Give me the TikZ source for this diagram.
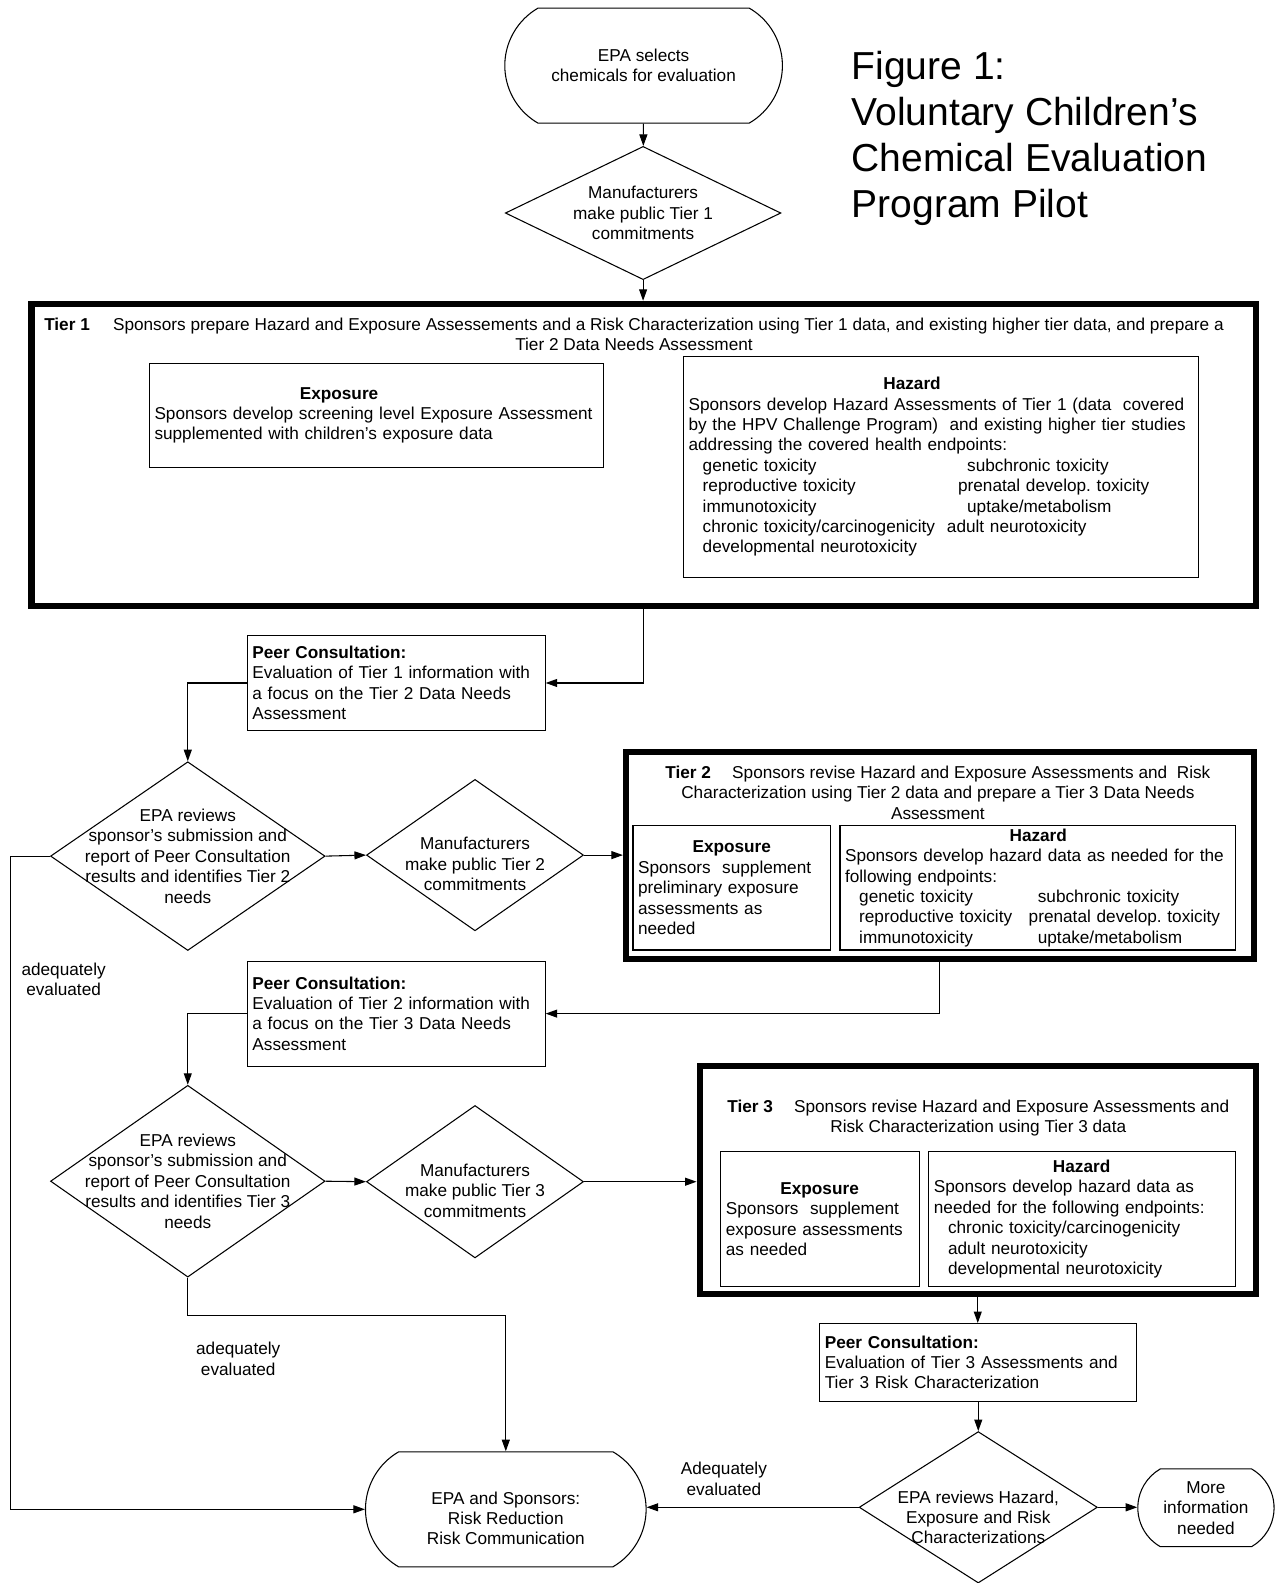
\documentclass[tikz,border=0pt]{standalone}
\usepackage{fontspec}
\setmainfont{Liberation Sans}
\usetikzlibrary{arrows.meta,shapes.geometric,shapes.misc}
\frenchspacing

\newcommand\twocol[3]{\hspace*{0.28cm}\makebox[#1][l]{#2}#3}
\newcommand\boxhead[2]{\hspace*{#1}\textbf{#2}}

\begin{document}
\begin{tikzpicture}[x=0.02cm, y=-0.02cm, line width=0.6pt,
  font=\fontsize{9.7}{11.5}\selectfont,
  arr/.style={-{Triangle[length=6.5pt,width=4.5pt]}},
  term/.style={draw, rounded rectangle, rounded rectangle arc length=120, align=center, inner sep=0pt},
  dec/.style={draw, diamond, inner sep=0pt},
  dtext/.style={align=center, inner sep=0pt},
  infobox/.style={draw, align=left, inner xsep=0.1cm, inner ysep=0pt},
  tierbox/.style={draw, line width=3.5pt, inner sep=0pt},
  headtext/.style={align=center, inner sep=0pt},
  note/.style={align=center, inner sep=0pt}]

  \useasboundingbox (0,0) rectangle (1262,1568);

  \node[term, minimum width=5.5cm, minimum height=2.28cm] (start) at (637.5,65) {EPA selects\\chemicals for evaluation};
  \node[dec, minimum width=5.46cm, minimum height=2.64cm] (d1) at (637,211) {};
  \node[dtext] (d1t) at (d1) {Manufacturers\\make public Tier 1\\commitments};

  \node[anchor=west, align=left, inner sep=0pt, font=\fontsize{22}{25.8}\selectfont] (title) at (843,137)
    {Figure 1:\\Voluntary Children's\\Chemical Evaluation\\Program Pilot};

  % tier 1
  \node[tierbox, minimum width=24.26cm, minimum height=5.98cm] (tier1) at (637.5,450.5) {};
  \node[headtext] (tier1h) at (628,331) {\textbf{Tier 1}\hspace{0.46cm}Sponsors prepare Hazard and Exposure Assessements and a Risk Characterization using Tier 1 data, and existing higher tier data, and prepare a\\Tier 2 Data Needs Assessment};
  \node[infobox, text width=8.8cm, minimum height=2.06cm] (exp1) at (373,411.5)
    {\boxhead{2.88cm}{Exposure}\\Sponsors develop screening level Exposure Assessment\\supplemented with children's exposure data};
  \node[infobox, text width=10cm, minimum height=4.38cm] (haz1) at (932,462.5)
    {\boxhead{3.86cm}{Hazard}\\
     Sponsors develop Hazard Assessments of Tier 1 (data~ covered\\
     by the HPV Challenge Program)~ and existing higher tier studies\\
     addressing the covered health endpoints:\\
     \twocol{5.24cm}{genetic toxicity}{subchronic toxicity}\\
     \twocol{5.06cm}{reproductive toxicity}{prenatal develop. toxicity}\\
     \twocol{5.24cm}{immunotoxicity}{uptake/metabolism}\\
     \twocol{4.84cm}{chronic toxicity/carcinogenicity}{adult neurotoxicity}\\
     \hspace*{0.28cm}developmental neurotoxicity};

  \node[infobox, text width=5.7cm, minimum height=1.9cm] (peer1) at (392.5,676.5)
    {\textbf{Peer Consultation:}\\Evaluation of Tier 1 information with\\a focus on the Tier 2 Data Needs\\Assessment};

  \node[dec, minimum width=5.44cm, minimum height=3.74cm] (d2) at (186,848) {};
  \node[dtext] (d2t) at (d2) {EPA reviews\\sponsor's submission and\\report of Peer Consultation\\results and identifies Tier 2\\needs};
  \node[dec, minimum width=4.3cm, minimum height=3cm] (d3) at (470.5,847) {};
  \node[dtext] (d3t) at ([yshift=-0.18cm]d3.center) {Manufacturers\\make public Tier 2\\commitments};

  % tier 2
  \node[tierbox, minimum width=12.44cm, minimum height=4.1cm] (tier2) at (931,847.5) {};
  \node[headtext] (tier2h) at (929,785) {\textbf{Tier 2}\hspace{0.42cm}Sponsors revise Hazard and Exposure Assessments and~ Risk\\Characterization using Tier 2 data and prepare a Tier 3 Data Needs\\Assessment};
  \node[infobox, text width=3.72cm, minimum height=2.46cm] (exp2) at (725,879.5)
    {\boxhead{1.08cm}{Exposure}\\Sponsors~ supplement\\preliminary exposure\\assessments as\\needed};
  \node[infobox, text width=7.64cm, minimum height=2.46cm] (haz2) at (1028,879.5)
    {\boxhead{3.26cm}{Hazard}\\
     Sponsors develop hazard data as needed for the\\
     following endpoints:\\
     \twocol{3.54cm}{genetic toxicity}{subchronic toxicity}\\
     \twocol{3.36cm}{reproductive toxicity}{prenatal develop. toxicity}\\
     \twocol{3.54cm}{immunotoxicity}{uptake/metabolism}};

  \node[infobox, text width=5.7cm, minimum height=2.08cm] (peer2) at (392.5,1004)
    {\textbf{Peer Consultation:}\\Evaluation of Tier 2 information with\\a focus on the Tier 3 Data Needs\\Assessment};

  \node[dec, minimum width=5.44cm, minimum height=3.8cm] (d4) at (186,1170) {};
  \node[dtext] (d4t) at (d4) {EPA reviews\\sponsor's submission and\\report of Peer Consultation\\results and identifies Tier 3\\needs};
  \node[dec, minimum width=4.3cm, minimum height=3.02cm] (d5) at (470.5,1170.5) {};
  \node[dtext] (d5t) at ([yshift=-0.18cm]d5.center) {Manufacturers\\make public Tier 3\\commitments};

  % tier 3
  \node[tierbox, minimum width=11.02cm, minimum height=4.52cm] (tier3) at (968.5,1169) {};
  \node[headtext] (tier3h) at (969,1107.5) {\textbf{Tier 3}\hspace{0.42cm}Sponsors revise Hazard and Exposure Assessments and\\Risk Characterization using Tier 3 data};
  \node[infobox, text width=3.74cm, minimum height=2.66cm] (exp3) at (812.5,1207.5)
    {\boxhead{1.08cm}{Exposure}\\Sponsors~ supplement\\exposure assessments\\as needed};
  \node[infobox, text width=5.88cm, minimum height=2.66cm] (haz3) at (1072,1207.5)
    {\boxhead{2.36cm}{Hazard}\\
     Sponsors develop hazard data as\\
     needed for the following endpoints:\\
     \hspace*{0.28cm}chronic toxicity/carcinogenicity\\
     \hspace*{0.28cm}adult neurotoxicity\\
     \hspace*{0.28cm}developmental neurotoxicity};

  \node[infobox, text width=6.08cm, minimum height=1.54cm] (peer3) at (969,1349.5)
    {\textbf{Peer Consultation:}\\Evaluation of Tier 3 Assessments and\\Tier 3 Risk Characterization};

  \node[dec, minimum width=4.72cm, minimum height=3cm] (d6) at (969,1493) {};
  \node[dtext] (d6t) at ([yshift=-0.2cm]d6.center) {EPA reviews Hazard,\\Exposure and Risk\\Characterizations};
  \node[term, minimum width=2.7cm, minimum height=1.54cm] (more) at (1194.5,1493.5) {More\\information\\needed};
  \node[term, minimum width=5.56cm, minimum height=2.28cm] (final) at (501,1495) {};
  \node[dtext] (finalt) at ([yshift=-0.18cm]final.center) {EPA and Sponsors:\\Risk Reduction\\Risk Communication};

  \coordinate (leftrail) at (10,848);
  \coordinate (joint) at (0,1303);

  \draw[arr] (start) -- (d1);
  \draw[arr] (d1.south) -- (d1.south |- tier1.north);
  \draw[arr] (tier1.south) |- (peer1.east);
  \draw[arr] (peer1.west) -| (d2.north);
  \draw[arr] (d2.east) -- (d3.west);
  \draw[arr] (d3.east) -- (d3.east -| tier2.west);
  \draw[arr] (tier2.south) |- (peer2.east);
  \draw[arr] (peer2.west) -| (d4.north);
  \draw[arr] (d4.east) -- (d5.west);
  \draw[arr] (d5.east) -- (d5.east -| tier3.west);
  \draw[arr] (tier3.south) -- (tier3.south |- peer3.north);
  \draw[arr] (peer3.south) -- (d6.north);
  \draw[arr] (d6.east) -- (d6.east -| more.west);
  \draw[arr] (d6.west) -- (d6.west -| final.east);
  \draw[arr] (d2.west) -- (leftrail) |- (final.west);
  \draw[arr] (d4.south) -- (d4.south |- joint) -| (final.north);

  \node[note] (lbl1) at (63,970) {adequately\\evaluated};
  \node[note] (lbl2) at (236,1346) {adequately\\evaluated};
  \node[note] (lbl3) at (717,1465) {Adequately\\evaluated};

\end{tikzpicture}
\end{document}
